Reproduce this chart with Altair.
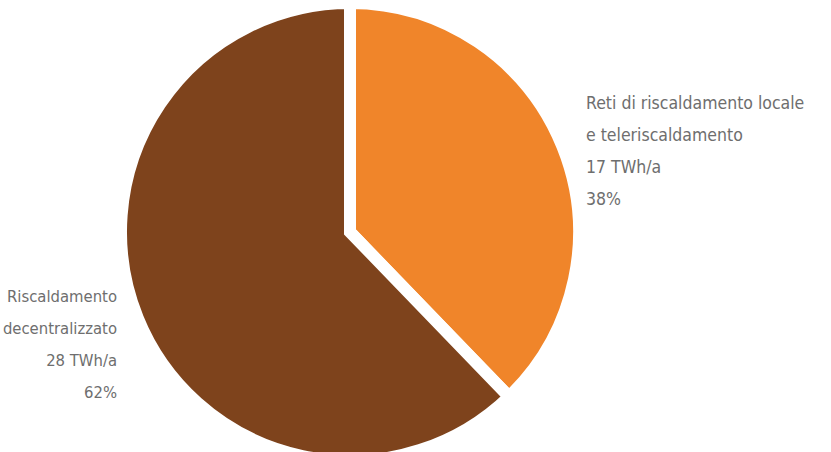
import altair as alt
import pandas as pd

categories = ["Reti di riscaldamento locale e teleriscaldamento", "Riscaldamento decentralizzato"]
values_twh = [17, 28]
shares = ["38%", "62%"]
colors = ["#F0852A", "#7E431C"]
label_lines = [
    ["Reti di riscaldamento locale", "e teleriscaldamento", "17 TWh/a", "38%"],
    ["Riscaldamento", "decentralizzato", "28 TWh/a", "62%"],
]

df = pd.DataFrame({"cat": categories, "val": values_twh, "order": [0, 1]})

pie = alt.Chart(df).mark_arc(stroke="white", strokeWidth=12, outerRadius=229).encode(
    theta=alt.Theta("val:Q", stack=True),
    order=alt.Order("order:Q"),
    color=alt.Color("cat:N", scale=alt.Scale(domain=categories, range=colors), legend=None),
    x=alt.value(350),
    y=alt.value(232),
)

lab_df = pd.DataFrame({
    "cat": categories,
    "txt": [label_lines[0], label_lines[1]],
})

font = "DejaVu Sans Condensed, sans-serif"

right_lab = alt.Chart(lab_df.iloc[[0]]).mark_text(
    align="left", baseline="top", font=font, fontSize=17.5, lineHeight=32, color="#6e6e6e"
).encode(text="txt", x=alt.value(586), y=alt.value(95))

left_lab = alt.Chart(lab_df.iloc[[1]]).mark_text(
    align="right", baseline="top", font=font, fontSize=16.5, lineHeight=32, color="#6e6e6e"
).encode(text="txt", x=alt.value(117), y=alt.value(289))

chart = alt.layer(pie, right_lab, left_lab).properties(
    width=831, height=452, padding=0, autosize=alt.AutoSizeParams(type="none")
).configure_view(stroke=None)

chart.save("out.html", embed_options={"renderer": "svg", "actions": False})
